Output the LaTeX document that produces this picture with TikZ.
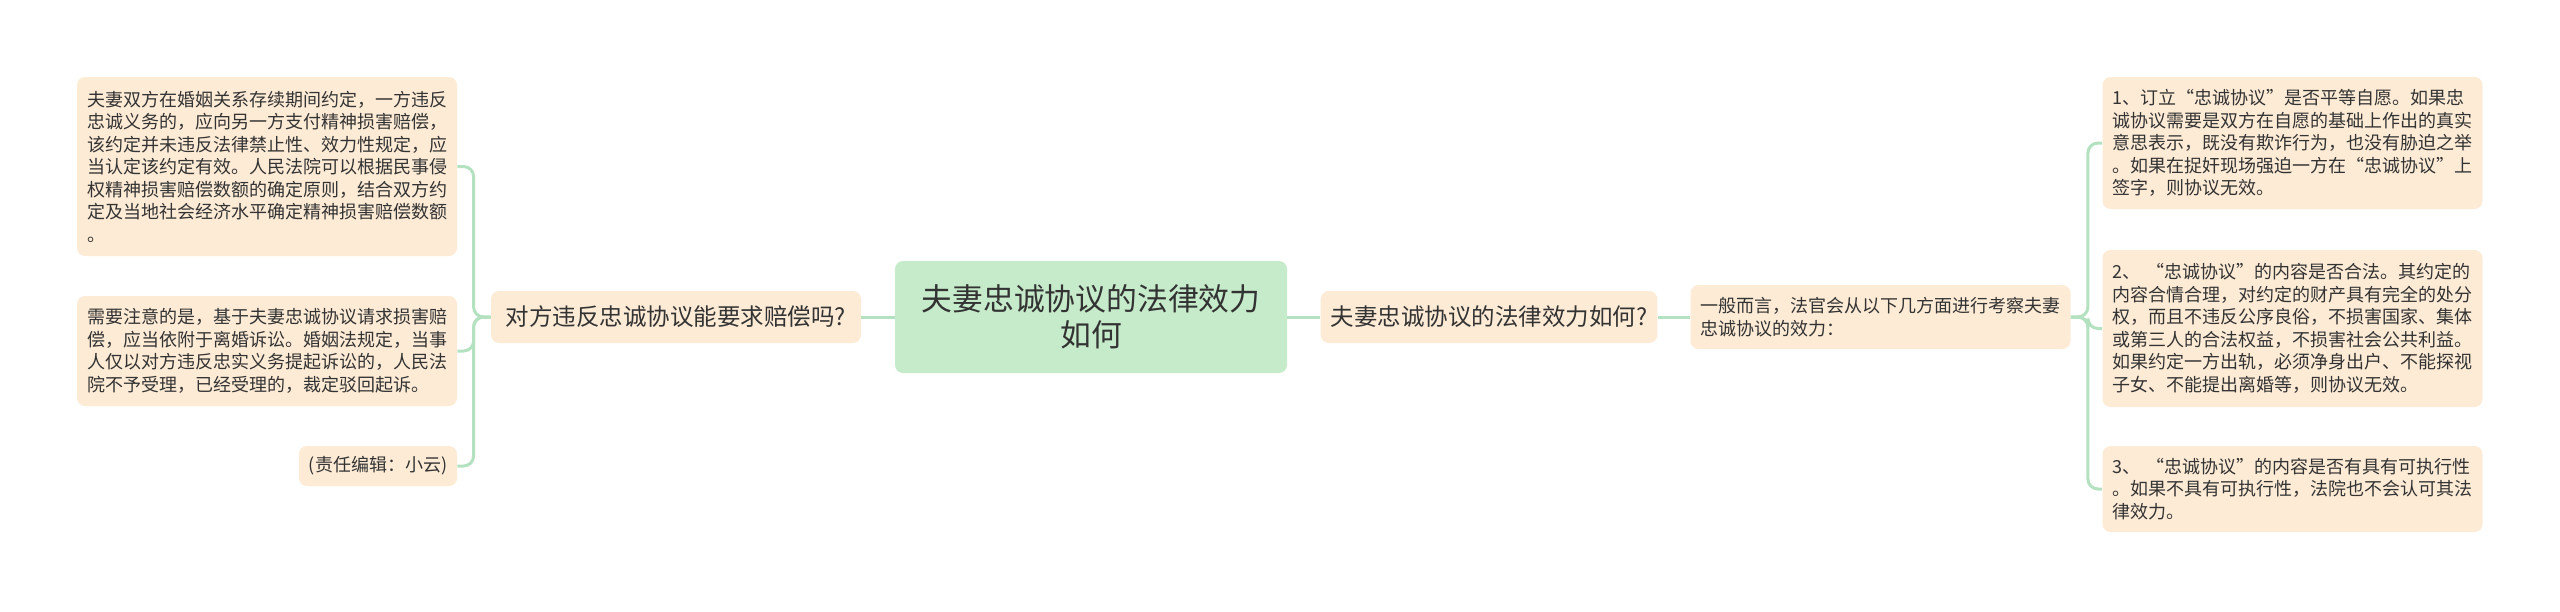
\documentclass[tikz,border=0pt]{standalone}
\usepackage{fontspec}
\setmainfont{Noto Sans CJK SC}
\usetikzlibrary{calc}

\definecolor{linkgreen}{HTML}{B4E2C0}
\definecolor{boxpeach}{HTML}{FDEBD6}
\definecolor{topicgreen}{HTML}{C6EBCA}
\definecolor{inkgray}{HTML}{333333}

\tikzset{
  box/.style={fill=boxpeach, rounded corners=4pt, inner xsep=5pt, inner ysep=3pt, text=inkgray},
  note/.style={box, text width=180pt, align=left, font=\fontsize{9pt}{11.25pt}\selectfont},
  ask/.style={box, align=center, font=\fontsize{11.75pt}{14pt}\selectfont},
  topic/.style={fill=topicgreen, rounded corners=4pt, text=inkgray, align=center,
    minimum width=196pt, minimum height=56pt, font=\fontsize{15.4pt}{18pt}\selectfont},
  link/.style={draw=linkgreen, line width=1.5pt, rounded corners=5pt},
}

\begin{document}
\begin{tikzpicture}[x=0.5pt,y=-0.5pt]
  \useasboundingbox (0,0) rectangle (2560,611);

  % centre topic and the two questions
  \node[topic] (topic) at (1091,317) {夫妻忠诚协议的法律效力\\如何};
  \node[ask, minimum width=185pt, minimum height=26pt] (qleft) at (676,317) {对方违反忠诚协议能要求赔偿吗?};
  \node[ask, minimum width=167pt, minimum height=26pt] (qright) at (1489,317) {夫妻忠诚协议的法律效力如何?};
  \node[note, minimum height=32pt] (general) at (1880.5,317)
    {一般而言，法官会从以下几方面进行考察夫妻\\忠诚协议的效力：};

  % left leaves
  \node[note, minimum height=89.5pt] (l1) at (267,166.5)
    {夫妻双方在婚姻关系存续期间约定，一方违反\\
     忠诚义务的，应向另一方支付精神损害赔偿，\\
     该约定并未违反法律禁止性、效力性规定，应\\
     当认定该约定有效。人民法院可以根据民事侵\\
     权精神损害赔偿数额的确定原则，结合双方约\\
     定及当地社会经济水平确定精神损害赔偿数额\\
     。};
  \node[note, minimum height=55pt] (l2) at (267,351)
    {需要注意的是，基于夫妻忠诚协议请求损害赔\\
     偿，应当依附于离婚诉讼。婚姻法规定，当事\\
     人仅以对方违反忠实义务提起诉讼的，人民法\\
     院不予受理，已经受理的，裁定驳回起诉。};
  \node[box, font=\fontsize{9pt}{11.25pt}\selectfont, minimum width=79pt, minimum height=20pt] (l3) at (378,466)
    {(责任编辑：小云)};

  % right leaves
  \node[note, minimum height=66pt] (r1) at (2292.5,143)
    {1、订立“忠诚协议”是否平等自愿。如果忠\\
     诚协议需要是双方在自愿的基础上作出的真实\\
     意思表示，既没有欺诈行为，也没有胁迫之举\\
     。如果在捉奸现场强迫一方在“忠诚协议”上\\
     签字，则协议无效。};
  \node[note, minimum height=78.5pt] (r2) at (2292.5,328.5)
    {2、 “忠诚协议”的内容是否合法。其约定的\\
     内容合情合理，对约定的财产具有完全的处分\\
     权，而且不违反公序良俗，不损害国家、集体\\
     或第三人的合法权益，不损害社会公共利益。\\
     如果约定一方出轨，必须净身出户、不能探视\\
     子女、不能提出离婚等，则协议无效。};
  \node[note, minimum height=43pt] (r3) at (2292.5,489)
    {3、 “忠诚协议”的内容是否有具有可执行性\\
     。如果不具有可执行性，法院也不会认可其法\\
     律效力。};

  % connectors
  \draw[link] (topic.west) -- (qleft.east);
  \draw[link] (topic.east) -- (qright.west);
  \draw[link] (qright.east) -- (general.west);
  \foreach \leaf in {l1,l2,l3}
    \draw[link] (qleft.west) -- ++(-17,0) |- (\leaf.east);
  \foreach \leaf in {r1,r2,r3}
    \draw[link] (general.east) -- ++(17,0) |- (\leaf.west);
\end{tikzpicture}
\end{document}
